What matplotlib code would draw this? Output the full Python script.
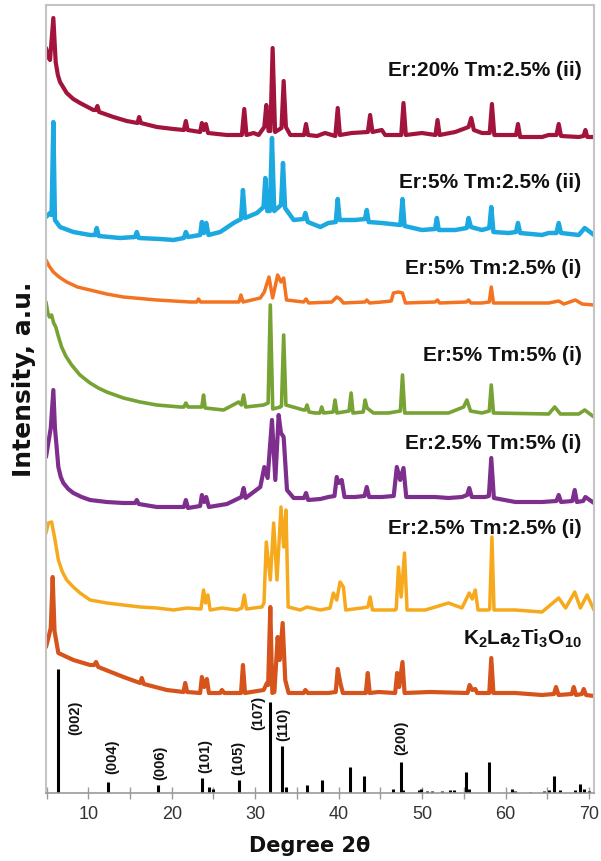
import matplotlib
matplotlib.use('Agg')
import matplotlib.pyplot as plt
from matplotlib.ticker import MultipleLocator

plt.rcParams['font.family'] = ['Liberation Sans', 'DejaVu Sans']
plt.rcParams['mathtext.fontset'] = 'custom'
plt.rcParams['mathtext.rm'] = 'Liberation Sans'
plt.rcParams['mathtext.bf'] = 'Liberation Sans:bold'

# ---------------- data (2theta in degrees, intensity in arbitrary stacked units) -------------
er20_tm25_ii = [(4.93,745),(5.2,736),(5.41,733),(5.81,775),(6.09,731),(6.35,718),(6.61,711),(7.41,700),
    (8.2,694),(9.01,690),(10.61,683),(10.9,683),(11.09,687),(11.3,681),(13.01,676),(14.61,672),(15.89,670),
    (16.09,676),(16.3,670),(18.21,666),(20.21,664),(21.45,663),(21.69,672),(21.9,663),(23.4,661),
    (23.61,670),(23.85,663),(24.09,669),(24.35,660),(26.61,658),(28.4,658),(28.69,684),(28.95,658),
    (29.81,660),(30.41,658),(31.09,666),(31.33,688),(31.6,662),(31.82,662),(32.09,745),(32.38,661),
    (33.15,665),(33.41,712),(33.68,666),(34.21,658),(35.85,658),(36.09,669),(36.33,658),(37.41,657),
    (38.37,660),(39.6,657),(39.89,685),(40.15,658),(41.57,660),(43.5,661),(43.77,678),(44.05,661),
    (45.17,663),(45.57,658),(47.5,658),(47.77,690),(48.05,658),(49.97,660),(51.6,658),(51.85,673),
    (52.1,658),(53.97,661),(55.57,666),(55.89,675),(56.2,663),(57.17,660),(58.1,660),(58.37,689),
    (58.65,658),(60.37,658),(61.25,658),(61.49,669),(61.75,656),(64.37,656),(65.17,658),(66.1,658),
    (66.37,669),(66.65,657),(68.77,656),(69.35,657),(69.57,663),(69.8,656),(70.6,656)]

er5_tm25_ii = [(4.93,576),(5.41,580),(5.6,578),(5.81,671),(6.0,573),(6.61,566),(8.21,561),(10.21,558),
    (10.8,558),(11.01,565),(11.25,557),(13.81,555),(15.6,556),(15.81,561),(16.05,555),(18.61,554),
    (20.21,553),(21.45,555),(21.69,561),(21.95,556),(23.4,558),(23.61,571),(23.85,560),(24.13,570),
    (24.41,558),(25.81,561),(27.41,570),(28.3,574),(28.53,603),(28.78,575),(30.21,580),(31.0,586),
    (31.21,615),(31.45,582),(31.75,582),(32.01,655),(32.28,582),(33.1,588),(33.33,630),(33.58,585),
    (34.61,573),(35.8,574),(36.01,580),(36.3,571),(37.81,566),(38.77,570),(39.65,571),(39.89,594),
    (40.12,573),(41.97,573),(43.15,574),(43.37,583),(43.6,571),(45.17,570),(47.4,568),(47.65,594),
    (47.9,567),(49.97,563),(51.55,564),(51.77,575),(52.0,563),(53.97,563),(55.35,565),(55.57,575),
    (55.85,566),(57.17,563),(58.05,565),(58.29,586),(58.55,561),(60.37,560),(61.25,561),(61.49,570),
    (61.75,560),(64.37,558),(65.17,560),(66.1,560),(66.37,570),(66.65,560),(68.77,558),(69.49,565),
    (70.6,558)]

er5_tm25_i = [(4.93,533),(5.3,527),(5.81,521),(6.5,516),(7.41,511),(8.7,506),(10.21,503),(12.2,499),
    (14.21,496),(18.21,493),(22.21,491),(23.0,491),(23.21,494),(23.45,491),(27.41,491),(28.05,491),
    (28.29,498),(28.55,491),(30.61,495),(31.09,501),(31.65,516),(32.09,495),(32.69,518),(33.09,511),
    (33.41,515),(33.75,493),(35.81,491),(36.09,494),(36.41,490),(39.17,491),(39.77,496),(40.17,494),
    (40.57,490),(43.15,491),(43.37,493),(43.7,490),(45.17,491),(46.3,492),(46.57,500),(47.17,501),
    (47.65,500),(48.0,490),(51.57,491),(51.85,493),(52.1,490),(55.3,491),(55.57,493),(55.85,490),
    (57.17,490),(58.05,491),(58.29,506),(58.55,490),(61.17,490),(65.17,490),(66.37,492),(67.0,489),
    (68.37,493),(69.17,489),(70.6,488)]

er5_tm5_i = [(4.93,491),(5.15,480),(5.35,476),(5.6,478),(5.85,470),(6.1,466),(6.4,457),(6.8,446),
    (7.3,437),(8.0,428),(9.0,418),(10.21,410),(11.2,405),(12.21,401),(14.21,395),(16.21,391),(18.21,388),
    (21.01,386),(21.45,386),(21.69,390),(21.95,386),(23.6,386),(23.81,398),(24.0,385),(26.21,383),
    (28.01,391),(28.35,388),(28.61,398),(28.85,386),(31.01,388),(31.55,390),(31.81,488),(32.1,384),
    (33.01,386),(33.15,387),(33.41,458),(33.68,388),(35.81,383),(36.0,383),(36.21,388),(36.45,381),
    (37.17,380),(37.75,380),(37.97,386),(38.2,380),(39.35,381),(39.57,393),(39.8,380),(41.25,382),
    (41.49,400),(41.72,380),(42.95,381),(43.17,393),(43.4,385),(44.17,380),(45.97,380),(47.4,382),
    (47.65,418),(47.92,380),(53.17,380),(54.97,386),(55.37,393),(55.8,382),(57.17,380),(58.05,382),
    (58.29,408),(58.55,380),(65.17,379),(65.89,386),(66.57,379),(68.77,379),(69.49,383),(70.6,376)]

er25_tm5_i = [(4.93,336),(5.21,350),(5.5,365),(5.81,403),(6.0,365),(6.13,353),(6.41,326),(6.7,316),
    (7.01,310),(7.6,304),(8.21,300),(9.2,296),(10.21,293),(12.21,291),(14.21,290),(15.6,290),(15.81,293),
    (16.05,289),(18.21,286),(20.21,286),(21.45,286),(21.69,293),(21.95,285),(23.4,287),(23.61,298),
    (23.89,291),(24.13,296),(24.45,286),(26.61,289),(28.35,296),(28.61,305),(28.85,295),(30.61,306),
    (31.09,326),(31.49,315),(32.01,373),(32.41,313),(32.81,378),(33.09,360),(33.41,356),(33.81,303),
    (34.61,295),(35.85,295),(36.09,300),(36.35,293),(37.81,294),(38.77,296),(39.5,297),(39.77,316),
    (40.0,310),(40.37,313),(40.7,296),(41.97,296),(43.1,297),(43.37,306),(43.65,296),(45.17,296),
    (46.6,297),(46.97,326),(47.37,313),(47.77,325),(48.1,296),(49.97,296),(51.57,296),(53.17,295),
    (54.77,296),(55.4,298),(55.65,305),(55.95,296),(57.57,296),(58.0,297),(58.29,335),(58.6,295),
    (61.17,291),(64.37,291),(66.1,292),(66.37,298),(66.65,291),(68.0,292),(68.29,303),(68.55,291),
    (69.3,292),(69.57,296),(70.6,290)]

er25_tm25_i = [(4.93,260),(5.21,270),(5.61,271),(6.01,253),(6.41,233),(6.9,221),(7.41,213),(8.2,206),
    (9.01,200),(10.21,193),(12.21,190),(14.21,188),(16.21,186),(18.21,185),(20.21,183),(21.81,185),
    (23.5,184),(23.81,203),(24.05,190),(24.33,198),(24.6,183),(26.01,185),(27.81,183),(28.4,185),
    (28.69,198),(28.95,184),(30.81,186),(31.05,190),(31.33,251),(31.81,213),(32.21,270),(32.61,213),
    (33.09,286),(33.41,246),(33.69,283),(33.95,186),(35.41,183),(36.21,186),(37.81,183),(38.97,185),
    (39.37,200),(39.77,193),(40.17,211),(40.57,206),(40.85,183),(42.77,185),(43.5,186),(43.77,196),
    (44.05,183),(45.57,183),(46.77,183),(46.9,184),(47.17,226),(47.49,196),(47.89,240),(48.2,183),
    (50.37,183),(53.17,190),(54.77,185),(55.65,200),(56.0,194),(56.37,203),(56.7,183),(57.97,183),
    (58.1,184),(58.37,256),(58.62,183),(61.17,183),(64.37,181),(66.37,195),(67.2,185),(68.29,201),
    (68.97,185),(69.77,198),(70.6,183)]

k2la2ti3o10 = [(4.93,146),(5.21,155),(5.5,165),(5.73,216),(5.95,162),(6.41,140),(8.21,133),(10.21,128),
    (10.7,128),(10.93,131),(11.2,126),(14.21,116),(16.21,110),(16.41,115),(16.65,109),(19.41,103),
    (21.41,101),(21.61,110),(21.85,101),(23.4,100),(23.61,116),(23.89,106),(24.21,114),(24.45,100),
    (25.81,100),(26.01,103),(26.3,100),(28.3,100),(28.53,128),(28.78,100),(31.01,103),(31.41,110),
    (31.55,108),(31.81,186),(32.05,100),(32.3,101),(32.69,156),(32.93,133),(33.29,170),(33.6,113),
    (34.0,100),(35.81,100),(36.01,103),(36.3,100),(38.77,100),(39.65,101),(39.89,124),(40.2,110),
    (40.5,100),(42.97,100),(43.25,100),(43.49,120),(43.72,100),(44.77,101),(46.77,100),(47.01,120),
    (47.25,106),(47.65,131),(47.9,100),(50.97,101),(55.45,100),(55.69,108),(56.0,103),(56.37,104),
    (56.6,100),(57.97,100),(58.05,100),(58.29,135),(58.55,100),(61.17,100),(64.37,98),(65.8,99),
    (66.05,106),(66.35,98),(67.95,99),(68.17,106),(68.45,98),(69.15,99),(69.37,104),(69.65,98),(70.6,97)]

series = [er20_tm25_ii, er5_tm25_ii, er5_tm25_i, er5_tm5_i, er25_tm5_i, er25_tm25_i, k2la2ti3o10]
series_colors = ['#A3143C', '#1CA9E1', '#F47321', '#76A334', '#7E2F8E', '#F6A91C', '#D6531C']
series_lw = [3.0, 3.2, 2.5, 2.6, 3.0, 2.5, 3.0]
series_labels = ['Er:20% Tm:2.5% (ii)', 'Er:5% Tm:2.5% (ii)', 'Er:5% Tm:2.5% (i)', 'Er:5% Tm:5% (i)',
                 'Er:2.5% Tm:5% (i)', 'Er:2.5% Tm:2.5% (i)', r'$\mathbf{K_2La_2Ti_3O_{10}}$']
label_y = [717, 605, 519, 432, 344, 259, 148]

# reference stick pattern
stick_pos = [6.41, 12.41, 18.33, 23.61, 24.49, 24.93, 28.01, 31.81, 33.17, 33.73, 36.21, 37.97, 41.37,
             43.09, 46.57, 47.49, 47.77, 49.57, 49.89, 50.57, 51.17, 52.37, 53.37, 53.77, 55.25, 55.65,
             57.97, 60.77, 61.17, 62.97, 64.57, 65.17, 65.77, 66.57, 68.37, 68.97, 69.37, 70.05]
stick_h = [124, 11, 8, 15, 6, 4, 13, 91, 47, 6, 8, 13, 26, 17, 4, 31, 3, 3, 4, 2, 2, 2, 3, 3, 21, 4,
           31, 4, 2, 1.5, 2, 3, 17, 3, 3, 9, 4, 2]
hkl_labels = ['(002)', '(004)', '(006)', '(101)', '(105)', '(107)', '(110)', '(200)']
hkl_x = [8.41, 12.81, 18.61, 24.01, 28.01, 30.41, 33.41, 47.49]
hkl_y = [75, 36, 30, 37, 35, 80, 69, 55]

x_ticks = [10, 20, 30, 40, 50, 60, 70]

# ---------------- figure -------------
W, H = 601, 861
fig = plt.figure(figsize=(W / 100, H / 100), dpi=100)
ax = fig.add_axes([46 / W, 1 - 793 / H, 548 / W, 788 / H])

for pts, c, lw in zip(series, series_colors, series_lw):
    xs = [p[0] for p in pts]
    ys = [p[1] for p in pts]
    ax.plot(xs, ys, color=c, lw=lw, solid_joinstyle='round', solid_capstyle='round')

ax.vlines(stick_pos, 0, stick_h, color='black', lw=2.2)

for x, y, t in zip(hkl_x, hkl_y, hkl_labels):
    ax.text(x, y, t, rotation=90, ha='center', va='center', fontsize=10.5, fontweight='bold', color='#111111')

for y, t in zip(label_y, series_labels):
    ax.text(69.1, y, t, ha='right', va='baseline', fontsize=15, fontweight='bold', color='#111111')

ax.set_xlim(4.93, 70.6)
ax.set_ylim(0, 788)
ax.set_yticks([])
ax.set_xticks(x_ticks)
ax.set_xticklabels([str(t) for t in x_ticks])
ax.xaxis.set_minor_locator(MultipleLocator(5))
ax.tick_params(axis='x', which='both', direction='inout', length=9, width=1.0, color='#9a9a9a')
ax.tick_params(axis='x', which='major', labelsize=13, labelcolor='#333333', pad=5)

for s in ['top', 'left', 'right']:
    ax.spines[s].set_color('#c4c4c4')
    ax.spines[s].set_linewidth(1.5)
ax.spines['bottom'].set_color('#9a9a9a')
ax.spines['bottom'].set_linewidth(1.2)

fig.text(24 / W, 1 - 379 / H, 'Intensity, a.u.', rotation=90, ha='center', va='center',
         fontsize=18, fontweight='bold', family=['DejaVu Sans'], color='#111111')
fig.text(309.5 / W, 1 - 846 / H, 'Degree 2θ', ha='center', va='center',
         fontsize=15, fontweight='bold', family=['DejaVu Sans'], color='#111111')

fig.savefig('out.png', dpi=100)
